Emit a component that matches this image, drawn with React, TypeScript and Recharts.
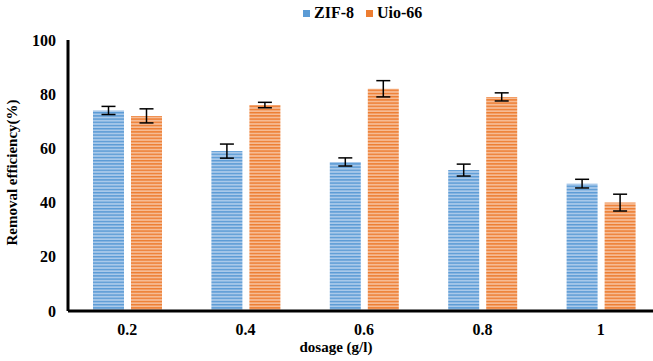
import React from "react";
import { BarChart, Bar, XAxis, YAxis, ErrorBar, Label } from "recharts";

const dosages = ["0.2", "0.4", "0.6", "0.8", "1"];
const zifValues = [74, 59, 55, 52, 47];
const zifErrors = [1.5, 2.6, 1.5, 2.2, 1.6];
const uioValues = [72, 76, 82, 79, 40];
const uioErrors = [2.6, 1.0, 3.0, 1.5, 3.1];
const yTicks = [0, 20, 40, 60, 80, 100];

const data = dosages.map((d, i) => ({
  dosage: d,
  zif: zifValues[i],
  zifErr: zifErrors[i],
  uio: uioValues[i],
  uioErr: uioErrors[i],
}));

const font = "Liberation Serif";
const textStyle = { fill: "#000", fontFamily: font, fontWeight: "bold", fontSize: 16 };

export default function App() {
  return (
    <div
      style={{
        position: "fixed",
        left: 0,
        top: 0,
        width: 653,
        height: 361,
        overflow: "hidden",
        background: "#fff",
      }}
    >
      {/* legend sits on top of the chart, outside recharts' layout */}
      <div
        style={{
          position: "absolute",
          top: 4,
          left: 303,
          display: "flex",
          alignItems: "center",
          fontFamily: font,
          fontWeight: "bold",
          fontSize: 16,
          color: "#000",
          zIndex: 1,
        }}
      >
        <span style={{ width: 7, height: 7, background: "#5b9bd5", marginRight: 4 }} />
        <span style={{ marginRight: 12 }}>ZIF-8</span>
        <span style={{ width: 7, height: 7, background: "#ed7d31", marginRight: 4 }} />
        <span>Uio-66</span>
      </div>
      <BarChart
        width={672}
        height={361}
        data={data}
        margin={{ top: 40, right: 12, bottom: 0, left: 20 }}
        barSize={31}
        barGap={7}
      >
        <defs>
          <pattern id="blueStripe" width="6" height="3.2" patternUnits="userSpaceOnUse">
            <rect width="6" height="3.2" fill="#a9c9ea" />
            <rect width="6" height="1.4" fill="#5b9bd5" />
          </pattern>
          <pattern id="orangeStripe" width="6" height="3.2" patternUnits="userSpaceOnUse">
            <rect width="6" height="3.2" fill="#f6bb94" />
            <rect width="6" height="1.4" fill="#ed7d31" />
          </pattern>
        </defs>
        <XAxis
          dataKey="dosage"
          height={50}
          axisLine={{ stroke: "#000", strokeWidth: 3 }}
          tickLine={false}
          tick={textStyle}
          tickMargin={7}
        >
          <Label
            value="dosage (g/l)"
            position="insideBottom"
            offset={9}
            dx={-28}
            style={{ ...textStyle, fontSize: 15 }}
          />
        </XAxis>
        <YAxis
          width={48}
          domain={[0, 100]}
          ticks={yTicks}
          axisLine={{ stroke: "#000", strokeWidth: 3 }}
          tickLine={false}
          tick={textStyle}
          tickMargin={6}
        >
          <Label
            value="Removal efficiency(%)"
            angle={-90}
            position="insideLeft"
            offset={-8}
            dy={-3}
            style={{ ...textStyle, fontSize: 15, textAnchor: "middle" }}
          />
        </YAxis>
        <Bar dataKey="zif" name="ZIF-8" fill="url(#blueStripe)" isAnimationActive={false}>
          <ErrorBar dataKey="zifErr" width={7} stroke="#000" strokeWidth={1.5} />
        </Bar>
        <Bar dataKey="uio" name="Uio-66" fill="url(#orangeStripe)" isAnimationActive={false}>
          <ErrorBar dataKey="uioErr" width={7} stroke="#000" strokeWidth={1.5} />
        </Bar>
      </BarChart>
    </div>
  );
}
